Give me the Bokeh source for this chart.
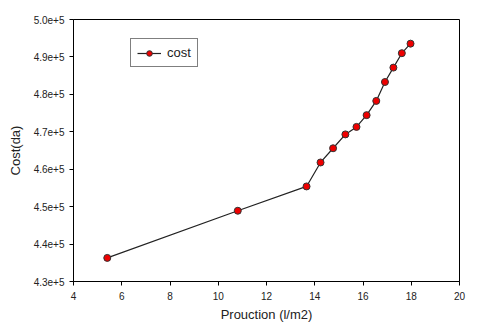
from bokeh.plotting import figure
from bokeh.models import FixedTicker, Legend, LegendItem, ColumnDataSource
from bokeh.embed import file_html
from bokeh.resources import INLINE

production = [5.40, 10.81, 13.66, 14.24, 14.76, 15.27, 15.73, 16.15, 16.55, 16.91, 17.26, 17.61, 17.97]
cost = [436300, 448900, 455400, 461800, 465600, 469300, 471300, 474450, 478250, 483300, 487150, 491000, 493550]

x_ticks = [4, 6, 8, 10, 12, 14, 16, 18, 20]
y_ticks = [430000, 440000, 450000, 460000, 470000, 480000, 490000, 500000]
y_tick_labels = ["4.3e+5", "4.4e+5", "4.5e+5", "4.6e+5", "4.7e+5", "4.8e+5", "4.9e+5", "5.0e+5"]

FONT = "Liberation Sans"
TXT = "#222222"

p = figure(width=472, height=324, x_range=(4, 20), y_range=(430000, 500000),
           output_backend="svg", toolbar_location=None,
           min_border_left=73, min_border_right=13, min_border_top=19, min_border_bottom=42)
p.grid.visible = False
p.outline_line_color = "black"
p.outline_line_width = 1
p.background_fill_color = "white"
p.border_fill_color = "white"

src = ColumnDataSource(dict(x=production, y=cost))
ln = p.line("x", "y", source=src, line_color="#222222", line_width=1.2)
sc = p.scatter("x", "y", source=src, size=7, fill_color="#ee0000", line_color="#333333", line_width=1)

for ax in (p.xaxis[0], p.yaxis[0]):
    ax.major_tick_in = 0
    ax.major_tick_out = 4
    ax.minor_tick_line_color = None
    ax.axis_line_color = "black"
    ax.major_tick_line_color = "black"
    ax.major_label_text_font = FONT
    ax.major_label_text_font_size = "10px"
    ax.major_label_text_color = TXT
    ax.axis_label_text_font = FONT
    ax.axis_label_text_font_size = "13px"
    ax.axis_label_text_font_style = "normal"
    ax.axis_label_text_color = TXT

p.xaxis.ticker = FixedTicker(ticks=x_ticks)
p.yaxis.ticker = FixedTicker(ticks=y_ticks)
p.yaxis.major_label_overrides = {t: l for t, l in zip(y_ticks, y_tick_labels)}
p.xaxis.axis_label = "Prouction (l/m2)"
p.yaxis.axis_label = "Cost(da)"
p.xaxis.major_label_standoff = 6
p.xaxis.axis_label_standoff = 4
p.yaxis.major_label_standoff = 5
p.yaxis.axis_label_standoff = 8

legend = Legend(items=[LegendItem(label="cost", renderers=[ln, sc])],
                location=(57, 214))
legend.border_line_color = "black"
legend.border_line_width = 1
legend.padding = 6
legend.margin = 0
legend.spacing = 0
legend.label_standoff = 6
legend.glyph_width = 24
legend.glyph_height = 14
legend.label_text_font = FONT
legend.label_text_font_size = "13px"
legend.label_text_color = TXT
legend.background_fill_alpha = 1
p.add_layout(legend)

open("out.html", "w").write(file_html(p, INLINE))
